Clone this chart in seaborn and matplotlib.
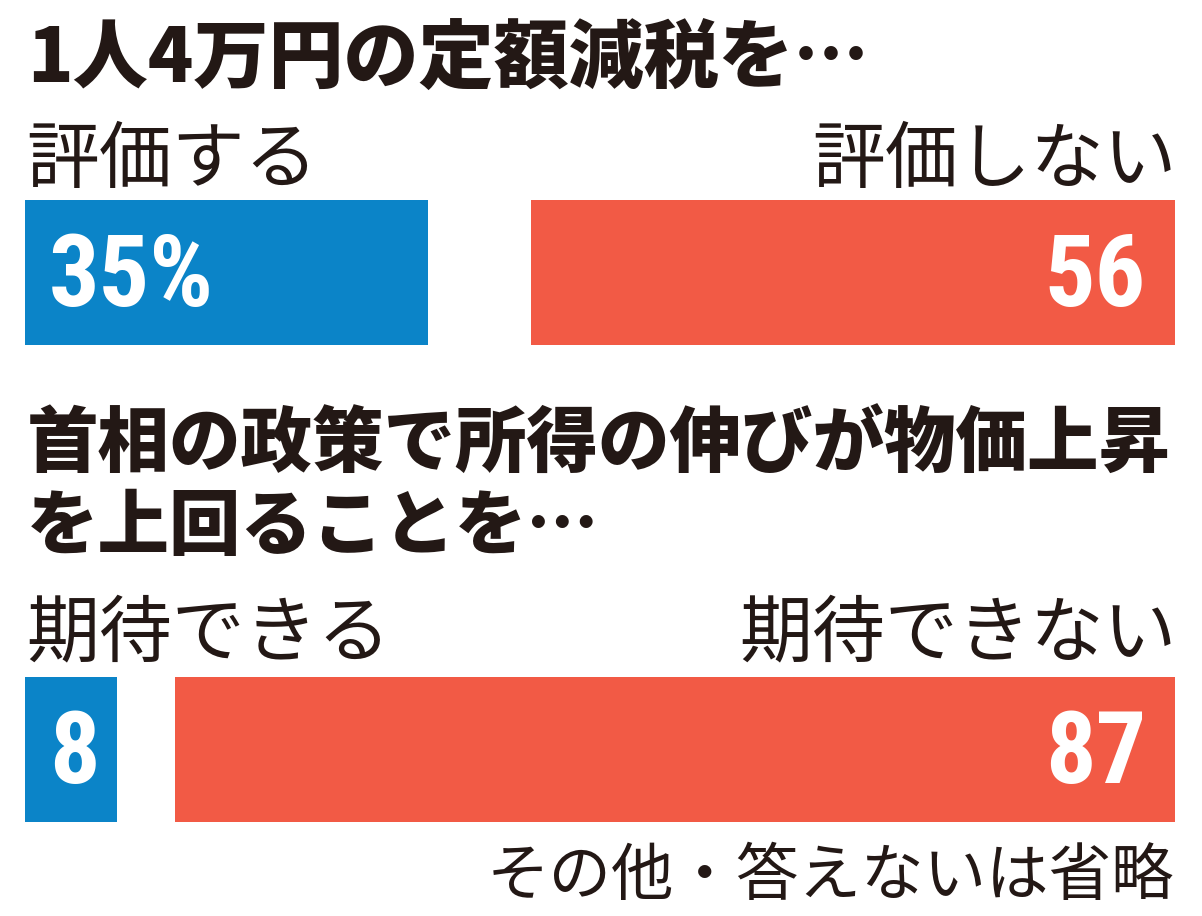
import matplotlib
matplotlib.use("Agg")
import matplotlib.pyplot as plt
import seaborn as sns
import pandas as pd
from matplotlib import font_manager
from matplotlib.font_manager import FontProperties

# ---- data ----
question_lines = [["1人4万円の定額減税を…"],
                  ["首相の政策で所得の伸びが物価上昇", "を上回ることを…"]]
positive_labels = ["評価する", "期待できる"]
negative_labels = ["評価しない", "期待できない"]
positive_values = [35, 8]
negative_values = [56, 87]
positive_texts = ["35%", "8"]
negative_texts = ["56", "87"]
note_text = "その他・答えないは省略"

# ---- style ----
sns.set_theme(style="white")
plt.rcParams["font.family"] = ["Noto Sans CJK JP", "DejaVu Sans"]
BLUE = "#0b84c8"
RED = "#f25a45"
INK = "#231815"


def pick_number_font():
    entries = font_manager.fontManager.ttflist

    def wnum(e):
        w = e.weight
        if isinstance(w, str):
            return font_manager.weight_dict.get(w, 400)
        return w

    prefs = ["liberation sans narrow", "roboto condensed", "open sans condensed",
             "noto sans condensed", "dejavu sans condensed", "arial narrow"]
    cands = []
    for e in entries:
        nm = e.name.lower()
        fn = e.fname.lower()
        cond = (e.stretch in ("condensed", "semi-condensed", "extra-condensed",
                              "ultra-condensed")
                or "condensed" in nm or "narrow" in nm
                or "condensed" in fn or "narrow" in fn)
        if cond and wnum(e) >= 600 and "italic" not in fn and "oblique" not in fn \
                and e.style == "normal":
            rank = len(prefs)
            for k, p in enumerate(prefs):
                if p in nm or p.replace(" ", "") in fn.replace("-", "").replace("_", ""):
                    rank = k
                    break
            cands.append((rank, abs(wnum(e) - 700), e.fname))
    if cands:
        cands.sort()
        return FontProperties(fname=cands[0][2], size=72)
    names = {e.name for e in entries}
    fam = "Roboto" if "Roboto" in names else "DejaVu Sans"
    return FontProperties(family=fam, weight="bold", size=72)


num_fp = pick_number_font()

W, H = 1202, 916
fig = plt.figure(figsize=(W / 100, H / 100), dpi=100)
fig.patch.set_facecolor("white")


def fx(x):
    return x / W


def fy(y):
    return 1 - y / H


X0, X1 = 25, 1175
BAR_H = 145
bar_tops = [200, 677]
title_baselines = [[82], [467, 549]]
title_sizes = [54, 51.5]
label_baselines = [182, 655]
num_baselines = [306, 783]
LABEL_SIZE = 52.5

for i in range(2):
    top = bar_tops[i]
    ax = fig.add_axes([fx(X0), fy(top + BAR_H), fx(X1 - X0), BAR_H / H])
    df_pos = pd.DataFrame({"row": ["r"], "value": [positive_values[i]]})
    df_neg = pd.DataFrame({"row": ["r"], "value": [negative_values[i]]})
    sns.barplot(data=df_pos, x="value", y="row", orient="h", color=BLUE,
                saturation=1, width=1, ax=ax, linewidth=0, errorbar=None)
    sns.barplot(data=df_neg, x="value", y="row", orient="h", color=RED,
                saturation=1, width=1, ax=ax, linewidth=0, errorbar=None,
                left=[100 - v for v in [negative_values[i]]])
    ax.set_xlim(0, 100)
    ax.set_ylim(0.5, -0.5)
    ax.axis("off")

    # titles
    for line, base in zip(question_lines[i], title_baselines[i]):
        fig.text(fx(27), fy(base), line, fontsize=title_sizes[i], fontweight="black",
                 color=INK, ha="left", va="baseline")
    # labels
    fig.text(fx(26), fy(label_baselines[i]), positive_labels[i], fontsize=LABEL_SIZE,
             color=INK, ha="left", va="baseline")
    fig.text(fx(1177), fy(label_baselines[i]), negative_labels[i], fontsize=LABEL_SIZE,
             color=INK, ha="right", va="baseline")
    # values
    fig.text(fx(49), fy(num_baselines[i]), positive_texts[i], fontproperties=num_fp,
             color="white", ha="left", va="baseline")
    fig.text(fx(1146), fy(num_baselines[i]), negative_texts[i], fontproperties=num_fp,
             color="white", ha="right", va="baseline")

fig.text(fx(1174), fy(895), note_text, fontsize=45, color=INK,
         ha="right", va="baseline")

fig.savefig("out.png", dpi=100, facecolor="white")
